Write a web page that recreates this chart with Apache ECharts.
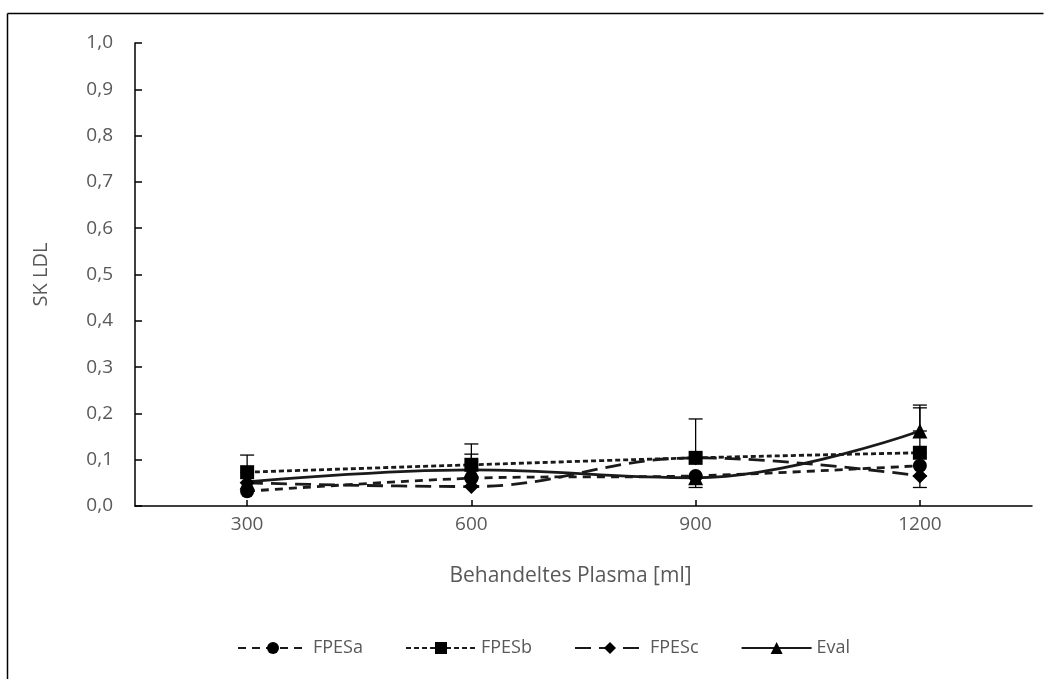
<!DOCTYPE html>
<html>
<head>
<meta charset="utf-8">
<script src="https://cdn.jsdelivr.net/npm/echarts@6/dist/echarts.min.js"></script>
<style>
  html, body { margin: 0; padding: 0; background: #fff; }
  #chart { width: 1050px; height: 679px; }
</style>
</head>
<body>
<div id="chart"></div>
<script>
// Plasma volumes on the x axis
const categories = ['300', '600', '900', '1200'];

// Mean sieving coefficient per filter
const fpesa = [0.032, 0.060, 0.065, 0.087];
const fpesb = [0.073, 0.089, 0.104, 0.115];
const fpesc = [0.050, 0.042, 0.104, 0.065];
const evalS = [0.052, 0.078, 0.061, 0.162];

// Error bar extents (upward / downward)
const fpesbUp = [0.037, 0.045, 0.084, 0.097];
const evalUp = [0, 0.034, 0, 0.056];
const evalDown = [0, 0, 0.021, 0];
const fpescDown = [0, 0, 0, 0.025];

const FONT = '"Open Sans", "Liberation Sans", sans-serif';
const TXT = '#595959';

function errSeries(name, means, up, down) {
  const data = means.map((m, i) => [i, m - (down ? down[i] : 0), m + (up ? up[i] : 0)]);
  return {
    type: 'custom',
    name: name + '-err',
    z: 1,
    silent: true,
    data: data,
    renderItem: function (params, api) {
      const x = api.value(0);
      const lo = api.coord([x, api.value(1)]);
      const hi = api.coord([x, api.value(2)]);
      const w = 7;
      const children = [{
        type: 'line',
        shape: { x1: lo[0], y1: lo[1], x2: hi[0], y2: hi[1] },
        style: { stroke: '#000', lineWidth: 1.3 }
      }];
      if (Math.abs(hi[1] - lo[1]) > 0.5) {
        [lo, hi].forEach(p => children.push({
          type: 'line',
          shape: { x1: p[0] - w, y1: p[1], x2: p[0] + w, y2: p[1] },
          style: { stroke: '#000', lineWidth: 1.3 }
        }));
      }
      return { type: 'group', children: children };
    }
  };
}

function lineSeries(name, values, symbol, size, dash, smooth) {
  return {
    type: 'line',
    name: name,
    data: values,
    symbol: symbol,
    symbolSize: size,
    smooth: smooth,
    z: 3,
    itemStyle: { color: '#000' },
    lineStyle: { color: '#1a1a1a', width: 2.8, type: dash },
    emphasis: { disabled: true }
  };
}

const chart = echarts.init(document.getElementById('chart'));
chart.setOption({
  animation: false,
  backgroundColor: '#fff',
  textStyle: { fontFamily: FONT },
  graphic: [
    { type: 'line', shape: { x1: 7.5, y1: 13.5, x2: 1043.5, y2: 13.5 }, style: { stroke: '#000', lineWidth: 1.5 } },
    { type: 'line', shape: { x1: 7.5, y1: 13.5, x2: 7.5, y2: 679 }, style: { stroke: '#000', lineWidth: 1.5 } }
  ],
  grid: { left: 135, right: 18, top: 43, bottom: 173 },
  legend: {
    bottom: 17,
    left: 232,
    itemWidth: 70,
    itemHeight: 15,
    itemGap: 42,
    textStyle: { color: TXT, fontSize: 18, fontFamily: FONT },
    data: ['FPESa', 'FPESb', 'FPESc', 'Eval']
  },
  xAxis: {
    type: 'category',
    data: categories,
    boundaryGap: true,
    name: 'Behandeltes Plasma [ml]',
    nameLocation: 'middle',
    nameGap: 60,
    nameTextStyle: { color: TXT, fontSize: 21, fontFamily: FONT, padding: [0, 26, 0, 0] },
    axisLine: { lineStyle: { color: '#000', width: 1.5 } },
    axisTick: { show: true, alignWithLabel: true, inside: true, length: 6, lineStyle: { color: '#000', width: 1.5 } },
    axisLabel: { color: TXT, fontSize: 19, margin: 9, fontFamily: FONT },
    splitLine: { show: false }
  },
  yAxis: {
    type: 'value',
    min: 0,
    max: 1,
    interval: 0.1,
    name: 'SK LDL',
    nameLocation: 'middle',
    nameGap: 84,
    nameRotate: 90,
    nameTextStyle: { color: TXT, fontSize: 20, fontFamily: FONT },
    axisLine: { show: true, lineStyle: { color: '#000', width: 1.5 } },
    axisTick: { show: true, inside: true, length: 7, lineStyle: { color: '#000', width: 1.5 } },
    axisLabel: {
      color: TXT, fontSize: 19, margin: 22, fontFamily: FONT,
      formatter: v => v.toFixed(1).replace('.', ',')
    },
    splitLine: { show: false }
  },
  series: [
    errSeries('FPESb', fpesb, fpesbUp, null),
    errSeries('Eval', evalS, evalUp, evalDown),
    errSeries('FPESc', fpesc, null, fpescDown),
    lineSeries('FPESa', fpesa, 'circle', 14, [8, 6], 0.3),
    lineSeries('FPESb', fpesb, 'rect', 14, [5, 3], 0.3),
    lineSeries('FPESc', fpesc, 'diamond', 15, [16, 8], 0.4),
    lineSeries('Eval', evalS, 'triangle', 15, 'solid', 0.4)
  ]
});
</script>
</body>
</html>
